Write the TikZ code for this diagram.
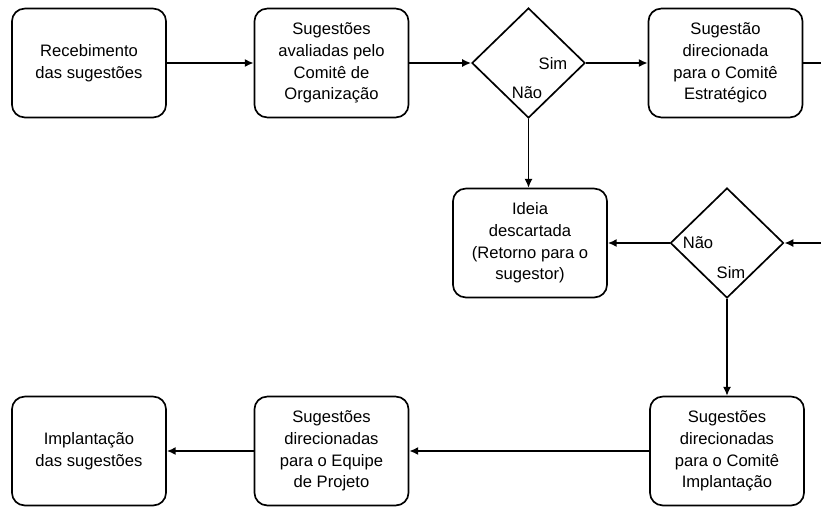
\documentclass[tikz,border=0pt]{standalone}
\usepackage{fontspec}
\setmainfont{Liberation Sans}
\usetikzlibrary{arrows.meta,positioning,shapes.geometric}
\tikzset{
  stage/.style={draw, line width=1.2pt, rounded corners=9pt, fill=white, minimum width=3.85cm, minimum height=2.72cm, align=center, font=\fontsize{11.8}{15.4}\selectfont},
  decision/.style={draw, diamond, line width=1.2pt, fill=white, minimum width=2.83cm, minimum height=2.75cm, inner sep=0pt},
  answer/.style={inner sep=0pt, font=\fontsize{11.8}{15.4}\selectfont},
  flow/.style={-{Latex[length=2.2mm,width=2mm]}, line width=1.1pt},
  plainflow/.style={line width=1.1pt}
}
\begin{document}
\begin{tikzpicture}[x=0.025cm, y=-0.025cm]
  \useasboundingbox (0,0) rectangle (821,507);
  \clip (0,0) rectangle (821,507);

  \node[stage] (receb) at (89,63) {Recebimento\\das sugestões};
  \node[stage] (avalia) at (331.5,63) {Sugestões\\avaliadas pelo\\Comitê de\\Organização};
  \node[decision] (dec1) at (528.5,63) {};
  \node[stage] (estrat) at (725.5,63) {Sugestão\\direcionada\\para o Comitê\\Estratégico};

  \node[stage] (ideia) at (530,243) {Ideia\\descartada\\(Retorno para o\\sugestor)};
  \node[decision] (dec2) at (727,243) {};

  \node[stage] (implant) at (89,451) {Implantação\\das sugestões};
  \node[stage] (equipe) at (331.5,451) {Sugestões\\direcionadas\\para o Equipe\\de Projeto};
  \node[stage] (comite) at (727,451) {Sugestões\\direcionadas\\para o Comitê\\Implantação};

  % respostas dos losangos
  \node[answer] (sim1) at (553,64) {Sim};
  \node[answer] (nao1) at (527,93) {Não};
  \node[answer] (nao2) at (698,243) {Não};
  \node[answer] (sim2) at (731,273) {Sim};

  \coordinate (volta) at (860,63);

  \draw[flow] (receb) -- (avalia);
  \draw[flow] (avalia) -- (dec1);
  \draw[flow] (dec1) -- (estrat);
  \draw[flow] (estrat.east) -- (volta) |- (dec2.east);
  \draw[flow] (dec1.south) -- (dec1.south |- ideia.north);
  \draw[flow] (dec2.west) -- (ideia.east);
  \draw[flow] (dec2.south) -- (comite.north);
  \draw[flow] (comite.west) -- (equipe.east);
  \draw[flow] (equipe.west) -- (implant.east);
\end{tikzpicture}
\end{document}
